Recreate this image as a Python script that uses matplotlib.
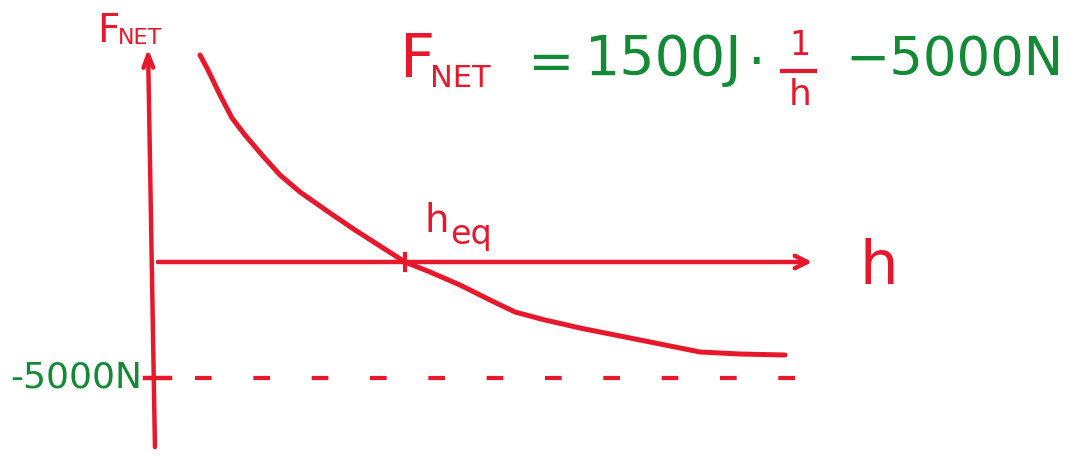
import numpy as np
import matplotlib.pyplot as plt

# sketch of F_net(h) (h in units of h_eq)
h_curve = [0.18, 0.212, 0.26, 0.308, 0.36, 0.428, 0.50, 0.58, 0.70, 0.80, 0.90, 1.00,
           1.10, 1.22, 1.34, 1.44, 1.56, 1.70, 1.86, 2.02, 2.18, 2.34, 2.52]
f_curve = [8922, 8276, 7198, 6207, 5474, 4612, 3750, 3017, 2112, 1379, 690, 0,
           -431, -991, -1638, -2155, -2500, -2845, -3190, -3534, -3879, -3966, -4009]
h_eq = 1.0
f_asym = -5000
asym_label = "-5000N"
eq_parts = ["1500J", "\u00b7", "\u22125000N"]

RED = "#e8182c"
GREEN = "#138a36"

fig = plt.figure(figsize=(10.84, 4.55), dpi=100)
ax = fig.add_axes([0, 0, 1, 1])
ax.set_xlim(-0.62, 3.716)
ax.set_ylim(-8319, 11293)
ax.axis("off")

# axes
ax.annotate("", xy=(2.64, 0), xytext=(0, 0),
            arrowprops=dict(arrowstyle="->,head_length=0.9,head_width=0.45",
                            color=RED, lw=3.2))
ax.annotate("", xy=(-0.028, 9300), xytext=(0, -8100),
            arrowprops=dict(arrowstyle="->,head_length=0.9,head_width=0.35",
                            color=RED, lw=3.2))

# curve
ax.plot(h_curve, f_curve, color=RED, lw=3.6, solid_capstyle="round",
        solid_joinstyle="round")

# equilibrium cross mark
ax.plot([h_eq, h_eq], [-350, 350], color=RED, lw=3)

# asymptote
ax.plot([-0.04, 0.06], [f_asym, f_asym], color=RED, lw=3.2)
ax.plot([0.16, 2.56], [f_asym, f_asym], color=RED, lw=3,
        dashes=(4, 10), solid_capstyle="round")
ax.text(-0.05, f_asym, asym_label, color=GREEN, fontsize=26,
        ha="right", va="center")

# axis labels
ax.text(-0.23, 9950, "F", color=RED, fontsize=28, ha="left", va="center")
ax.text(-0.15, 9650, "NET", color=RED, fontsize=16, ha="left", va="center")
ax.text(2.82, -250, "h", color=RED, fontsize=44, ha="left", va="center")
ax.text(1.08, 1750, "h", color=RED, fontsize=28, ha="left", va="center")
ax.text(1.18, 1200, "eq", color=RED, fontsize=24, ha="left", va="center")

# equation at top
ax.text(0.98, 8700, "F", color=RED, fontsize=44, ha="left", va="center")
ax.text(1.10, 7900, "NET", color=RED, fontsize=22, ha="left", va="center")
ax.text(1.49, 8500, "=", color=GREEN, fontsize=40, ha="left", va="center")
ax.text(1.72, 8700, eq_parts[0], color=GREEN, fontsize=40, ha="left", va="center")
ax.text(2.37, 8500, eq_parts[1], color=GREEN, fontsize=40, ha="left", va="center")
ax.text(2.58, 9350, "1", color=RED, fontsize=24, ha="center", va="center")
ax.plot([2.51, 2.64], [8250, 8250], color=RED, lw=3)
ax.text(2.58, 7200, "h", color=RED, fontsize=26, ha="center", va="center")
ax.text(2.76, 8700, eq_parts[2], color=GREEN, fontsize=38, ha="left", va="center")

fig.savefig("out.png", dpi=100)
